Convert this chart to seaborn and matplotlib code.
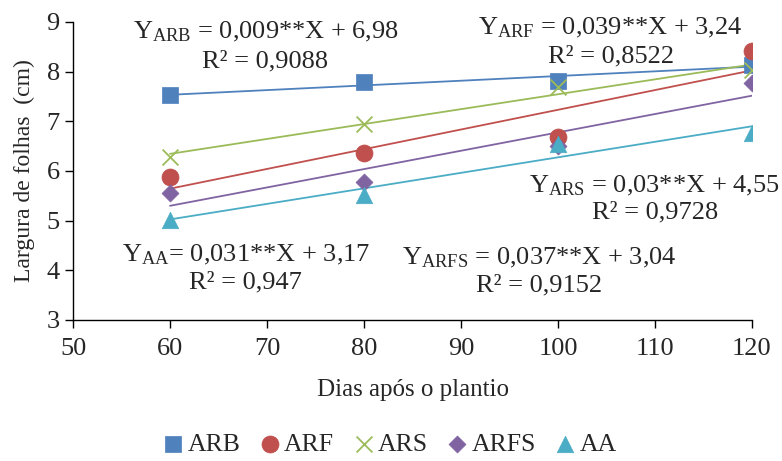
import matplotlib
matplotlib.use("Agg")
import matplotlib.pyplot as plt
import seaborn as sns
import pandas as pd
import numpy as np

sns.set_style("ticks")
plt.rcParams['font.family'] = ['Liberation Serif', 'DejaVu Serif']
plt.rcParams['mathtext.fontset'] = 'custom'
plt.rcParams['mathtext.rm'] = 'Liberation Serif'
plt.rcParams['mathtext.it'] = 'Liberation Serif:italic'

# ----------------------------------------------------------
# data
# ----------------------------------------------------------
dias = [60, 80, 100, 120]
arb = [7.52, 7.79, 7.82, 8.14]
arf = [5.87, 6.37, 6.69, 8.41]
ars = [6.29, 6.95, 7.70, 8.04]
arfs = [5.56, 5.78, 6.51, 7.78]
aa = [5.02, 5.52, 6.55, 6.76]

tratamentos = ["ARB", "ARF", "ARS", "ARFS", "AA"]
valores = [arb, arf, ars, arfs, aa]
cores = ["#4F81BD", "#C0504D", "#9BBB59", "#8064A2", "#4BACC6"]
marcadores = ["s", "o", "x", "D", "^"]
tamanhos = [120, 150, 130, 75, 140]

equacoes = [
    r"Y$_{\mathrm{ARB}}$ = 0,009**X + 6,98",
    r"Y$_{\mathrm{ARF}}$ = 0,039**X + 3,24",
    r"Y$_{\mathrm{ARS}}$ = 0,03**X + 4,55",
    r"Y$_{\mathrm{ARFS}}$ = 0,037**X + 3,04",
    r"Y$_{\mathrm{AA}}$= 0,031**X + 3,17",
]
r2 = ["R² = 0,9088", "R² = 0,8522", "R² = 0,9728", "R² = 0,9152", "R² = 0,947"]
# label anchor positions (data coords): equation line, then R² line
pos_eq = [(69.9, 8.80), (105.4, 8.88), (109.9, 5.70), (98.1, 4.25), (67.8, 4.31)]
pos_r2 = [(69.8, 8.21), (105.5, 8.30), (110.0, 5.16), (98.1, 3.69), (67.8, 3.75)]

df = pd.DataFrame({
    "dias": dias * len(tratamentos),
    "largura": np.concatenate(valores),
    "trat": np.repeat(tratamentos, len(dias)),
})

fig = plt.figure(figsize=(7.82, 4.61), dpi=100)
ax = fig.add_axes([0.0934, 0.3059, 0.8682, 0.6464])

for trat, cor, mk, s in zip(tratamentos, cores, marcadores, tamanhos):
    sub = df[df["trat"] == trat]
    # linear trend line over the data range
    sns.regplot(x="dias", y="largura", data=sub, ax=ax, scatter=False, ci=None,
                truncate=True, color=cor, line_kws={"linewidth": 1.3})
    if mk == "x":
        sns.scatterplot(x="dias", y="largura", data=sub, ax=ax, marker=mk, s=s,
                        color=cor, linewidth=1.3, label=trat, zorder=3)
    else:
        sns.scatterplot(x="dias", y="largura", data=sub, ax=ax, marker=mk, s=s,
                        color=cor, edgecolor=cor, linewidth=0.5, label=trat, zorder=3)

for eq, r, (xe, ye), (xr, yr) in zip(equacoes, r2, pos_eq, pos_r2):
    ax.text(xe, ye, eq, fontsize=19, ha="center", va="center")
    ax.text(xr, yr, r, fontsize=19, ha="center", va="center")

ax.set_xlim(50, 120)
ax.set_ylim(3, 9)
ax.set_xticks(range(50, 121, 10))
ax.set_yticks(range(3, 10))
ax.tick_params(axis="both", labelsize=19, length=6, width=1, color="black")
ax.tick_params(axis="x", pad=7)
for side in ["top", "right"]:
    ax.spines[side].set_visible(False)
for side in ["left", "bottom"]:
    ax.spines[side].set_linewidth(1)
    ax.spines[side].set_color("black")

ax.set_xlabel("Dias após o plantio", fontsize=18, labelpad=14)
ax.set_ylabel("Largura de folhas  (cm)", fontsize=17, labelpad=8)

handles, labels = ax.get_legend_handles_labels()
ax.get_legend().remove()
fig.legend(handles, labels, loc="center", bbox_to_anchor=(0.497, 0.036), ncol=5,
           frameon=False, fontsize=18.5, handletextpad=0.05, columnspacing=0.65,
           handlelength=1.0, borderaxespad=0, borderpad=0)

fig.savefig("out.png", dpi=100)
